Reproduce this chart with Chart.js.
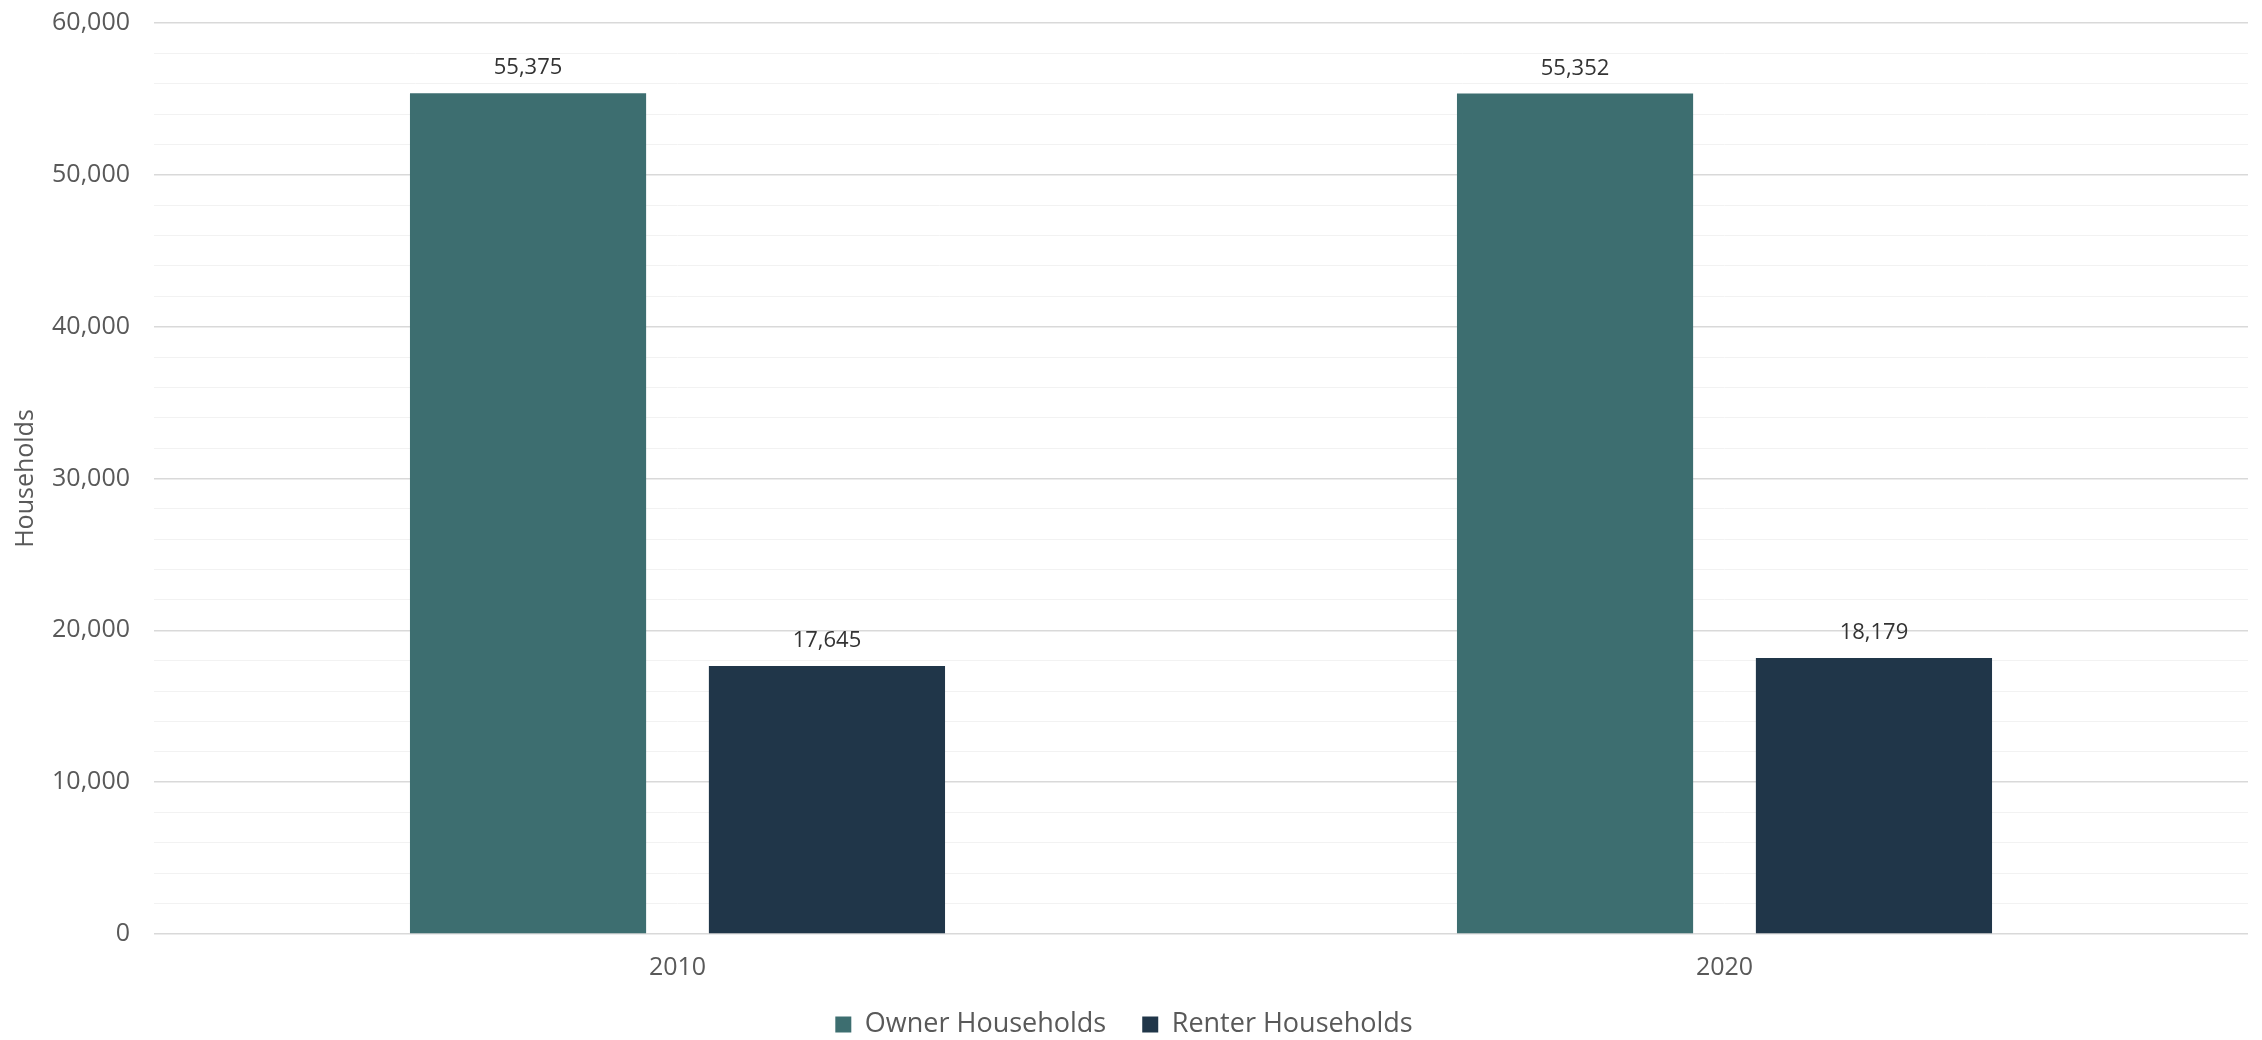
<!DOCTYPE html>
<html>
<head>
<meta charset="utf-8">
<script src="https://cdn.jsdelivr.net/npm/chart.js@4.4.1/dist/chart.umd.min.js"></script>
<style>
    html, body { margin: 0; padding: 0; background: #fff; }
    #wrap { width: 2262px; height: 1040px; }
</style>
</head>
<body>
<div id="wrap"><canvas id="householdsChart"></canvas></div>
<script>
// Households by tenure

const years = ['2010', '2020'];
const ownerHouseholds = [55375, 55352];
const renterHouseholds = [17645, 18179];
const majorTicks = [0, 10000, 20000, 30000, 40000, 50000, 60000];

const fontFamily = '"Open Sans", "Noto Sans", sans-serif';

// Draw value labels above each bar
const barValueLabels = {
    id: 'barValueLabels',
    afterDatasetsDraw(chart) {
        const ctx = chart.ctx;
        ctx.save();
        ctx.font = '22px ' + fontFamily;
        ctx.fillStyle = '#333333';
        ctx.textAlign = 'center';
        ctx.textBaseline = 'bottom';
        chart.data.datasets.forEach((ds, i) => {
            chart.getDatasetMeta(i).data.forEach((bar, j) => {
                ctx.fillText(ds.data[j].toLocaleString('en-US'), bar.x, bar.y - 14);
            });
        });
        ctx.restore();
    }
};

// Pull the legend a bit closer to the axis labels
const legendShift = {
    id: 'legendShift',
    afterLayout(chart) {
        chart.legend.top -= 27;
        chart.legend.bottom -= 27;
    }
};

function drawChart() {
    const ctx = document.getElementById('householdsChart').getContext('2d');
    new Chart(ctx, {
        type: 'bar',
        data: {
            labels: years,
            datasets: [{
                label: 'Owner Households',
                data: ownerHouseholds,
                backgroundColor: '#3d6e70',
                categoryPercentage: 0.571,
                barPercentage: 0.79
            }, {
                label: 'Renter Households',
                data: renterHouseholds,
                backgroundColor: '#203649',
                categoryPercentage: 0.571,
                barPercentage: 0.79
            }]
        },
        options: {
            responsive: true,
            maintainAspectRatio: false,
            animation: false,
            layout: {
                padding: { left: 0, right: 14, top: 0, bottom: -35 }
            },
            plugins: {
                tooltip: { enabled: false },
                legend: {
                    position: 'bottom',
                    labels: {
                        boxWidth: 16,
                        boxHeight: 16,
                        padding: 36,
                        color: '#595959',
                        font: { family: fontFamily, size: 27 }
                    }
                }
            },
            scales: {
                x: {
                    grid: { display: false, drawTicks: false },
                    border: { display: false },
                    ticks: {
                        color: '#595959',
                        padding: 19,
                        font: { family: fontFamily, size: 25 }
                    }
                },
                y: {
                    min: 0,
                    max: 60000,
                    border: { display: false },
                    afterFit: (scale) => {
                        scale.width = 154;
                        scale.paddingTop = 23;
                    },
                    grid: {
                        drawTicks: false,
                        color: (c) => majorTicks.includes(c.tick.value) ? '#d9d9d9' : '#f2f2f2',
                        lineWidth: (c) => majorTicks.includes(c.tick.value) ? 1.5 : 1
                    },
                    ticks: {
                        stepSize: 2000,
                        autoSkip: false,
                        color: '#595959',
                        padding: 24,
                        font: { family: fontFamily, size: 25 },
                        callback: (value) => majorTicks.includes(value) ? value.toLocaleString('en-US') : ''
                    },
                    title: {
                        display: true,
                        text: 'Households',
                        color: '#595959',
                        padding: { top: 11, bottom: 0 },
                        font: { family: fontFamily, size: 25 }
                    }
                }
            }
        },
        plugins: [barValueLabels, legendShift]
    });
}

document.fonts.load('25px "Open Sans"').then(drawChart, drawChart);
</script>
</body>
</html>
